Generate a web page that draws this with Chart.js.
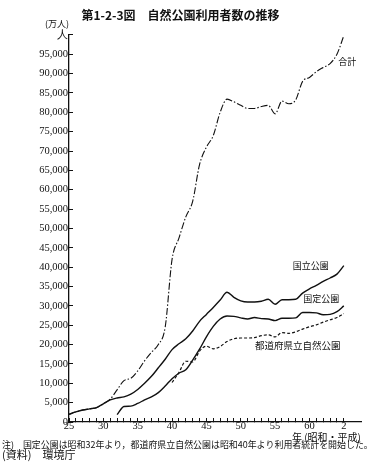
<!DOCTYPE html>
<html>
<head>
<meta charset="utf-8">
<script src="https://cdn.jsdelivr.net/npm/chart.js@4.4.0/dist/chart.umd.min.js"></script>
<style>
  html, body { margin: 0; padding: 0; background: #fff; }
  #wrap { width: 375px; height: 472px; }
</style>
</head>
<body>
<div id="wrap"><canvas id="myChart" width="375" height="472"></canvas></div>
<script>
// years: Showa 25 .. Showa 63, Heisei 1 (=64), Heisei 2 (=65)
var years = [25,26,27,28,29,30,31,32,33,34,35,36,37,38,39,40,41,42,43,44,45,46,47,48,49,50,51,52,53,54,55,56,57,58,59,60,61,62,63,64,65];

// 万人
var total = [2000,2600,3100,3400,3700,4700,5900,8300,10700,11300,13200,15800,18000,20000,24500,42000,47500,53000,57000,66500,71000,74000,80000,83400,82700,81800,81000,81000,81500,81800,79600,82900,82200,83200,88000,89000,90500,91600,92600,95000,99800];
var national = [2000,2600,3100,3400,3700,4700,5700,6200,6500,7200,8400,10000,11800,14000,16200,18700,20200,21500,23500,26000,27800,29600,31500,33500,32200,31300,31000,31000,31200,31700,30400,31600,31600,31700,33300,34400,35300,36300,37200,38200,40400];
var quasi = [null,null,null,null,null,null,null,1900,4000,4100,4800,5700,6500,7600,9300,11200,12600,13500,16000,18800,22000,24700,26600,27400,27300,26900,26600,27000,26700,26600,26200,26800,26800,26900,28300,28300,28200,27700,27800,28500,30000];
var prefectural = [null,null,null,null,null,null,null,null,null,null,null,null,null,null,null,10200,12800,15700,15500,18300,19600,18900,19500,20800,21500,21700,21700,21800,22300,22500,22000,23100,22900,23300,24000,24600,25100,25800,26400,27000,28000];

var seriesNames = ['合計','国立公園','国定公園','都道府県立自然公園'];

var tickYears = [25,30,35,40,45,50,55,60,65];
var tickText = ['25','30','35','40','45','50','55','60','2'];

var serif = '"Liberation Serif", "DejaVu Serif", serif';
var cjk = '"Noto Sans CJK JP", "Noto Sans", sans-serif';

function pts(arr){
    var out = [];
    for(var i=0;i<years.length;i++){
        out.push({x: years[i], y: arr[i]});
    }
    return out;
}

function getData(lable,data,dash,width)
{
   return {
        label: lable,
        data: pts(data),
        borderColor: '#111',
        backgroundColor: '#111',
        borderWidth: width,
        borderDash: dash,
        pointRadius: 0,
        cubicInterpolationMode: 'monotone',
        spanGaps: false,
        fill: false
    };
}

// text drawn on the chart (line names, unit, notes)
var notesPlugin = {
    id: 'notes',
    afterDraw: function(chart){
        var ctx = chart.ctx, xs = chart.scales.x, ys = chart.scales.y;
        ctx.save();
        ctx.fillStyle = '#111';
        ctx.textBaseline = 'middle';
        ctx.textAlign = 'center';
        ctx.font = '9px ' + cjk;
        ctx.fillText(seriesNames[0], xs.getPixelForValue(65.5), ys.getPixelForValue(93000));
        ctx.fillText(seriesNames[1], xs.getPixelForValue(60.2), ys.getPixelForValue(40400));
        ctx.fillText(seriesNames[2], xs.getPixelForValue(61.7), ys.getPixelForValue(31900));
        ctx.font = '9.5px ' + cjk;
        ctx.fillText(seriesNames[3], xs.getPixelForValue(58.3), ys.getPixelForValue(19700));
        //==================================================
        ctx.font = '9px ' + cjk;
        ctx.fillText('(万人)', 57, 24);
        ctx.textAlign = 'left';
        ctx.font = '8.95px ' + cjk;
        ctx.fillText('注)　国定公園は昭和32年より，都道府県立自然公園は昭和40年より利用者統計を開始した。', 2, 445);
        ctx.font = '11px ' + cjk;
        ctx.fillText('(資料)　環境庁', 2, 455);
        ctx.restore();
    }
};

function setchart(){
    var ctx = document.getElementById("myChart");
    var datas = [
        getData(seriesNames[0], total, [7,2,1.5,2], 1.1),
        getData(seriesNames[1], national, [], 1.4),
        getData(seriesNames[2], quasi, [], 1.4),
        getData(seriesNames[3], prefectural, [3,2], 1.2)
    ];
    new Chart(ctx, {
        type: 'line',
        data: { datasets: datas },
        plugins: [notesPlugin],
        options: {
            responsive: false,
            animation: false,
            devicePixelRatio: 1,
            layout: { padding: { left: 0, right: 14, top: 0, bottom: 30 } },
            plugins: {
                legend: { display: false },
                tooltip: { enabled: false },
                title: {
                    display: true,
                    text: '第1-2-3図　自然公園利用者数の推移',
                    color: '#111',
                    font: { family: cjk, size: 12, weight: 'bold', lineHeight: 1.2 },
                    padding: { top: 8, bottom: 12.5 }
                }
            },
            scales: {
                x: {
                    type: 'linear',
                    min: 25,
                    max: 67.5,
                    afterBuildTicks: function(s){ s.ticks = years.map(function(v){ return {value: v}; }); },
                    afterFit: function(s){ s.height = 20; },
                    border: { display: true, color: '#111', width: 1.3 },
                    grid: { drawOnChartArea: false, drawTicks: true, tickLength: -4, color: '#111', lineWidth: 1 },
                    ticks: {
                        autoSkip: false,
                        maxRotation: 0,
                        padding: 3,
                        color: '#111',
                        font: { family: serif, size: 10.5, lineHeight: 1 },
                        callback: function(v){ var k = tickYears.indexOf(v); return k < 0 ? '' : tickText[k]; }
                    },
                    title: {
                        display: true,
                        align: 'end',
                        text: '年 (昭和・平成)',
                        color: '#111',
                        font: { family: cjk, size: 10, lineHeight: 1.2 },
                        padding: { top: 0, bottom: -1 }
                    }
                },
                y: {
                    min: 0,
                    max: 100000,
                    afterFit: function(s){ s.width = 69; },
                    border: { display: true, color: '#111', width: 1.3 },
                    grid: { drawOnChartArea: false, drawTicks: true, tickLength: -4, color: '#111', lineWidth: 1 },
                    ticks: {
                        stepSize: 5000,
                        padding: 5,
                        color: '#111',
                        font: { family: serif, size: 10.5 },
                        callback: function(v){ return v === 100000 ? '人' : v.toLocaleString('en-US'); }
                    }
                }
            }
        }
    });
}
setchart();
</script>
</body>
</html>
